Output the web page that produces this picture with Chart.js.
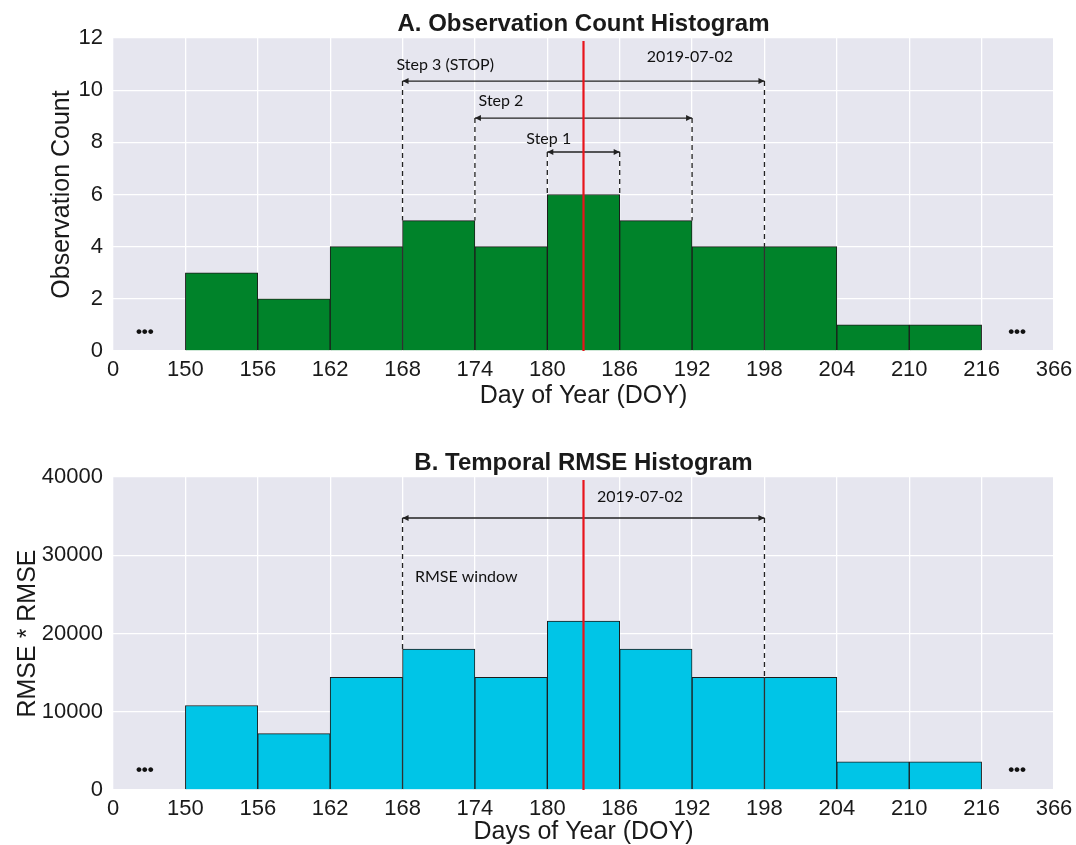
<!DOCTYPE html>
<html>
<head>
<meta charset="utf-8">
<script src="https://cdn.jsdelivr.net/npm/chart.js@4"></script>
<style>
  body { margin: 0; background: #fff; }
  .wrap { position: absolute; left: 0; width: 1076px; }
</style>
</head>
<body>
<div class="wrap" style="top:0px"><canvas id="countChart" width="1076" height="420"></canvas></div>
<div class="wrap" style="top:440px"><canvas id="rmseChart" width="1076" height="405"></canvas></div>
<script>
// evenly spaced tick labels (axis is broken between 0-150 and 216-366)
var xTicks = ['0', '150', '156', '162', '168', '174', '180', '186', '192', '198', '204', '210', '216', '366'];
// histogram bins: bin i spans tick i+1 .. i+2
var binStarts = [150, 156, 162, 168, 174, 180, 186, 192, 198, 204, 210];
var counts = [3, 2, 4, 5, 4, 6, 5, 4, 4, 1, 1];
var rmse = [10800, 7200, 14400, 18000, 14400, 21600, 18000, 14400, 14400, 3600, 3600];
var targetDoy = 183; // 2019-07-02

function tickIndex(doy) {
    for (var i = 1; i < xTicks.length - 1; i++) {
        var a = +xTicks[i], b = +xTicks[i + 1];
        if (doy >= a && doy <= b) return i + (doy - a) / (b - a);
    }
    return 0;
}
function heightAt(values, idx) {
    // tallest bar touching the boundary at tick index idx
    var l = values[idx - 2] || 0, r = values[idx - 1] || 0;
    return Math.max(l, r);
}
function toPoints(values) {
    return values.map(function(v, i) { return { x: tickIndex(binStarts[i]) + 0.5, y: v }; });
}

var txtFont = '16px Lato';
function arrowHead(ctx, x, y, dir) {
    ctx.beginPath();
    ctx.moveTo(x, y);
    ctx.lineTo(x - dir * 6, y - 3);
    ctx.lineTo(x - dir * 6, y + 3);
    ctx.closePath();
    ctx.fill();
}

var decor = {
    id: 'decor',
    beforeDraw: function(chart) {
        var a = chart.chartArea, ctx = chart.ctx;
        ctx.save();
        ctx.fillStyle = '#E6E6EF';
        ctx.fillRect(a.left, a.top, a.right - a.left, a.bottom - a.top);
        ctx.restore();
    },
    afterDatasetsDraw: function(chart, args, opts) {
        var ctx = chart.ctx, xs = chart.scales.x, ys = chart.scales.y, a = chart.chartArea;
        var values = opts.values;
        ctx.save();
        // spans with dashed drop lines
        opts.spans.forEach(function(s) {
            var x1 = xs.getPixelForValue(s.from), x2 = xs.getPixelForValue(s.to);
            var y = ys.getPixelForValue(s.y);
            ctx.strokeStyle = '#222';
            ctx.lineWidth = 1.3;
            ctx.setLineDash([5, 4]);
            [s.from, s.to].forEach(function(idx) {
                var px = xs.getPixelForValue(idx);
                ctx.beginPath();
                ctx.moveTo(px, y);
                ctx.lineTo(px, ys.getPixelForValue(heightAt(values, idx)));
                ctx.stroke();
            });
            ctx.setLineDash([]);
            ctx.beginPath();
            ctx.moveTo(x1, y);
            ctx.lineTo(x2, y);
            ctx.stroke();
            ctx.fillStyle = '#222';
            arrowHead(ctx, x1, y, -1);
            arrowHead(ctx, x2, y, 1);
        });
        // red date line
        var rx = xs.getPixelForValue(tickIndex(targetDoy));
        ctx.strokeStyle = '#E8141B';
        ctx.lineWidth = 2.2;
        ctx.beginPath();
        ctx.moveTo(rx, a.top + 3);
        ctx.lineTo(rx, a.bottom);
        ctx.stroke();
        // labels
        ctx.fillStyle = '#111';
        ctx.textAlign = 'center';
        ctx.textBaseline = 'middle';
        opts.labels.forEach(function(l) {
            ctx.font = l.font || txtFont;
            ctx.fillText(l.text, xs.getPixelForValue(l.x), ys.getPixelForValue(l.y));
        });
        // title
        ctx.font = 'bold 24px "Liberation Sans"';
        ctx.fillStyle = '#1a1a1a';
        ctx.textBaseline = 'middle';
        ctx.fillText(opts.title, (a.left + a.right) / 2, a.top - 14);
        ctx.restore();
    }
};

function makeChart(id, values, color, yMax, yStep, yTitle, xTitle, pad, opts) {
    return new Chart(document.getElementById(id).getContext('2d'), {
        type: 'bar',
        data: {
            datasets: [{
                data: toPoints(values),
                backgroundColor: color,
                borderColor: '#1c1c1c',
                borderWidth: 1,
                borderSkipped: 'bottom',
                barPercentage: 1,
                categoryPercentage: 1
            }]
        },
        options: {
            responsive: false,
            animation: false,
            layout: { padding: { top: pad.top, right: 22, left: 0, bottom: 0 } },
            scales: {
                x: {
                    type: 'linear',
                    min: 0,
                    max: xTicks.length - 1,
                    offset: false,
                    grid: { color: '#FFFFFF', lineWidth: 1.3, drawTicks: false, offset: false },
                    border: { display: false },
                    ticks: {
                        stepSize: 1,
                        autoSkip: false,
                        maxRotation: 0,
                        padding: 6,
                        color: '#1a1a1a',
                        font: { family: 'Liberation Sans', size: 22 },
                        callback: function(v) { return xTicks[v]; }
                    },
                    title: {
                        display: true,
                        text: xTitle,
                        color: '#1a1a1a',
                        font: { family: 'Liberation Sans', size: 25 },
                        padding: { top: 0, bottom: pad.xTitle }
                    },
                    afterFit: function(s) {
                        s.height = pad.xHeight;
                        s.paddingLeft = 0;
                        s.paddingRight = 0;
                    }
                },
                y: {
                    min: 0,
                    max: yMax,
                    grid: { color: '#FFFFFF', lineWidth: 1.3, drawTicks: false },
                    border: { display: false },
                    ticks: {
                        stepSize: yStep,
                        padding: 10,
                        color: '#1a1a1a',
                        font: { family: 'Liberation Sans', size: 22 },
                        callback: function(v) { return String(v); }
                    },
                    title: {
                        display: true,
                        text: yTitle,
                        color: '#1a1a1a',
                        font: { family: 'Liberation Sans', size: 25 },
                        padding: { top: pad.yTitle, bottom: 0 }
                    },
                    afterFit: function(s) { s.width = 113; }
                }
            },
            plugins: {
                legend: { display: false },
                tooltip: { enabled: false },
                decor: opts
            }
        },
        plugins: [decor]
    });
}

var dots = { text: '\u2022\u2022\u2022', font: 'bold 17px "Liberation Sans"' };

makeChart('countChart', counts, '#00832A', 12, 2, 'Observation Count', 'Day of Year (DOY)',
    { top: 38, xHeight: 69, xTitle: 9, yTitle: 47 },
    {
        title: 'A. Observation Count Histogram',
        values: counts,
        spans: [
            { from: 6, to: 7, y: 7.63 },
            { from: 5, to: 8, y: 8.93 },
            { from: 4, to: 9, y: 10.35 }
        ],
        labels: [
            { text: 'Step 1', x: 6.02, y: 8.13 },
            { text: 'Step 2', x: 5.36, y: 9.59 },
            { text: 'Step 3 (STOP)', x: 4.59, y: 10.97 },
            { text: '2019-07-02', x: 7.97, y: 11.27 },
            { text: dots.text, font: dots.font, x: 0.44, y: 0.7 },
            { text: dots.text, font: dots.font, x: 12.49, y: 0.7 }
        ]
    });

makeChart('rmseChart', rmse, '#00C5E7', 40000, 10000, 'RMSE * RMSE', 'Days of Year (DOY)',
    { top: 37, xHeight: 55, xTitle: -2, yTitle: 13 },
    {
        title: 'B. Temporal RMSE Histogram',
        values: rmse,
        spans: [
            { from: 4, to: 9, y: 34760 }
        ],
        labels: [
            { text: '2019-07-02', x: 7.28, y: 37440 },
            { text: 'RMSE window', x: 4.88, y: 27220 },
            { text: dots.text, font: dots.font, x: 0.44, y: 2560 },
            { text: dots.text, font: dots.font, x: 12.49, y: 2560 }
        ]
    });
</script>
</body>
</html>
